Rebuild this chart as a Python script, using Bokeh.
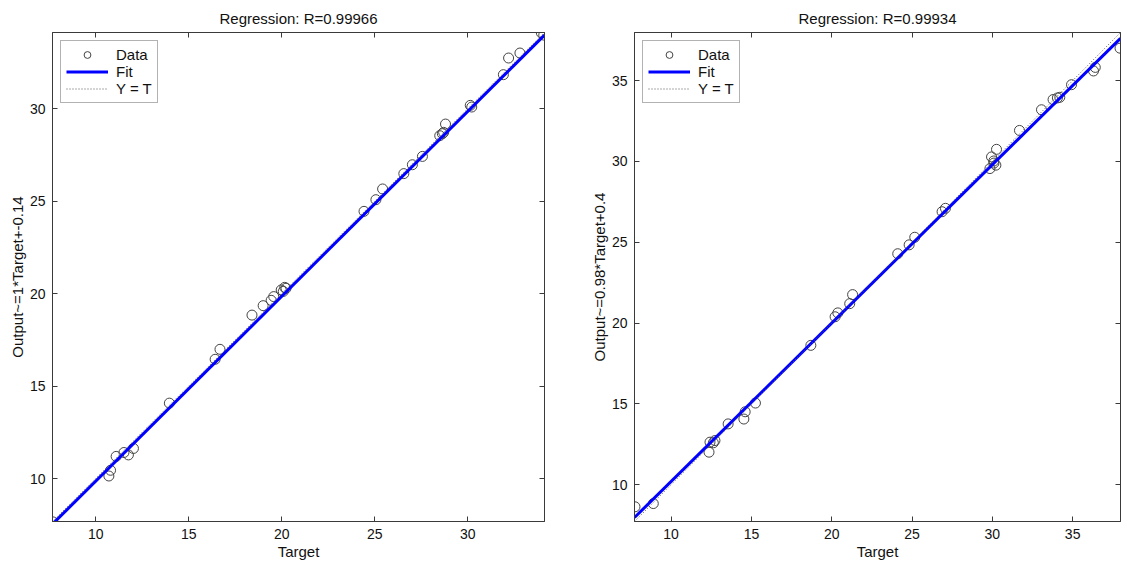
from bokeh.plotting import figure
from bokeh.layouts import row
from bokeh.models import LinearAxis, FixedTicker, Range1d
from bokeh.embed import file_html
from bokeh.resources import INLINE

# ---------------- data ----------------
left_title = "Regression: R=0.99966"
left_ylabel = "Output~=1*Target+-0.14"
left_slope = 1.0
left_intercept = -0.14
left_limits = [7.68, 34.12]
left_ticks = [10, 15, 20, 25, 30]
left_target = [7.70, 10.71, 10.80, 11.10, 11.52, 11.76, 12.03, 13.96, 16.42, 16.68,
               18.40, 19.00, 19.43, 19.57, 19.97, 20.08, 20.16, 20.23, 24.42, 25.06,
               25.42, 26.56, 27.02, 27.56, 28.49, 28.63, 28.70, 28.80, 30.13, 30.21,
               31.91, 32.19, 32.80, 33.95, 34.08]
left_output = [7.66, 10.14, 10.45, 11.20, 11.41, 11.28, 11.63, 14.08, 16.45, 16.99,
               18.84, 19.35, 19.64, 19.84, 20.20, 20.12, 20.34, 20.29, 24.45, 25.08,
               25.66, 26.49, 26.97, 27.42, 28.54, 28.65, 28.72, 29.17, 30.18, 30.09,
               31.84, 32.74, 33.01, 34.10, 33.98]

right_title = "Regression: R=0.99934"
right_ylabel = "Output~=0.98*Target+0.4"
right_slope = 0.98
right_intercept = 0.4
right_limits = [7.72, 37.98]
right_ticks = [10, 15, 20, 25, 30, 35]
right_target = [7.75, 8.89, 12.36, 12.42, 12.63, 12.73, 13.55, 14.53, 14.61, 15.25,
                18.70, 20.21, 20.38, 21.12, 21.30, 24.11, 24.82, 25.17, 26.87, 27.08,
                29.85, 29.95, 30.09, 30.22, 30.10, 30.26, 31.69, 33.06, 33.78, 34.05,
                34.20, 34.93, 36.30, 36.41, 37.95]
right_output = [8.63, 8.83, 12.01, 12.63, 12.59, 12.73, 13.76, 14.06, 14.51, 15.05,
                18.62, 20.39, 20.63, 21.20, 21.76, 24.29, 24.84, 25.31, 26.89, 27.10,
                29.56, 30.28, 30.03, 29.77, 29.90, 30.75, 31.92, 33.20, 33.83, 33.93,
                33.97, 34.75, 35.60, 35.82, 37.01]

FONT = "Liberation Sans"
AX = "#3a3a3a"


def style_axis(ax, ticks, labels=True):
    ax.ticker = FixedTicker(ticks=ticks)
    ax.axis_line_color = AX
    ax.major_tick_line_color = AX
    ax.major_tick_in = 5
    ax.major_tick_out = 0
    ax.minor_tick_in = 0
    ax.minor_tick_out = 0
    ax.minor_tick_line_color = None
    if labels:
        ax.major_label_text_font = FONT
        ax.major_label_text_font_size = "14px"
        ax.major_label_text_color = "#111111"
        ax.major_label_standoff = 7
        ax.axis_label_text_font = FONT
        ax.axis_label_text_font_size = "15px"
        ax.axis_label_text_font_style = "normal"
        ax.axis_label_text_color = "#111111"
        ax.axis_label_standoff = 1
    else:
        ax.major_label_text_color = None
        ax.major_label_text_font_size = "8px"
        ax.major_label_standoff = 0


def make_panel(title, ylabel, target, output, slope, intercept, limits, ticks,
               width, bl, br):
    p = figure(width=width, height=562, output_backend="svg", toolbar_location=None,
               x_range=Range1d(*limits), y_range=Range1d(*limits),
               min_border_left=bl, min_border_right=br, min_border_top=32,
               min_border_bottom=39)
    p.title.text = title
    p.title.align = "center"
    p.title.text_font = FONT
    p.title.text_font_size = "15px"
    p.title.text_font_style = "normal"
    p.title.text_color = "#111111"
    p.title.standoff = 11
    p.xgrid.visible = False
    p.ygrid.visible = False
    p.outline_line_color = AX
    p.background_fill_color = "white"
    p.border_fill_color = "white"

    p.xaxis.axis_label = "Target"
    p.yaxis.axis_label = ylabel
    style_axis(p.xaxis[0], ticks)
    style_axis(p.yaxis[0], ticks)
    top = LinearAxis()
    style_axis(top, ticks, labels=False)
    right = LinearAxis()
    style_axis(right, ticks, labels=False)
    p.add_layout(top, "above")
    p.add_layout(right, "right")

    xs = list(limits)
    fit_y = [slope * x + intercept for x in xs]

    p.scatter(target, output, marker="circle", size=10, fill_color=None,
              line_color="#444444", line_width=1, legend_label="Data")
    p.line(xs, fit_y, line_color="#0000ff", line_width=3, legend_label="Fit")
    p.line(xs, xs, line_color="#555555", line_width=1, line_dash="1 2",
           legend_label="Y = T")

    lg = p.legend[0]
    lg.location = "top_left"
    lg.margin = 8
    lg.padding = 5
    lg.spacing = 0
    lg.label_height = 17
    lg.glyph_height = 17
    lg.glyph_width = 42
    lg.label_standoff = 8
    lg.label_text_font = FONT
    lg.label_text_font_size = "15px"
    lg.label_text_color = "#111111"
    lg.border_line_color = "#666666"
    lg.border_line_width = 1
    lg.background_fill_alpha = 1.0
    return p


p1 = make_panel(left_title, left_ylabel, left_target, left_output, left_slope,
                left_intercept, left_limits, left_ticks, 587, 52, 43)
p2 = make_panel(right_title, right_ylabel, right_target, right_output, right_slope,
                right_intercept, right_limits, right_ticks, 538, 44, 5)

layout = row(p1, p2, spacing=0)
open("out.html", "w").write(file_html(layout, INLINE))
